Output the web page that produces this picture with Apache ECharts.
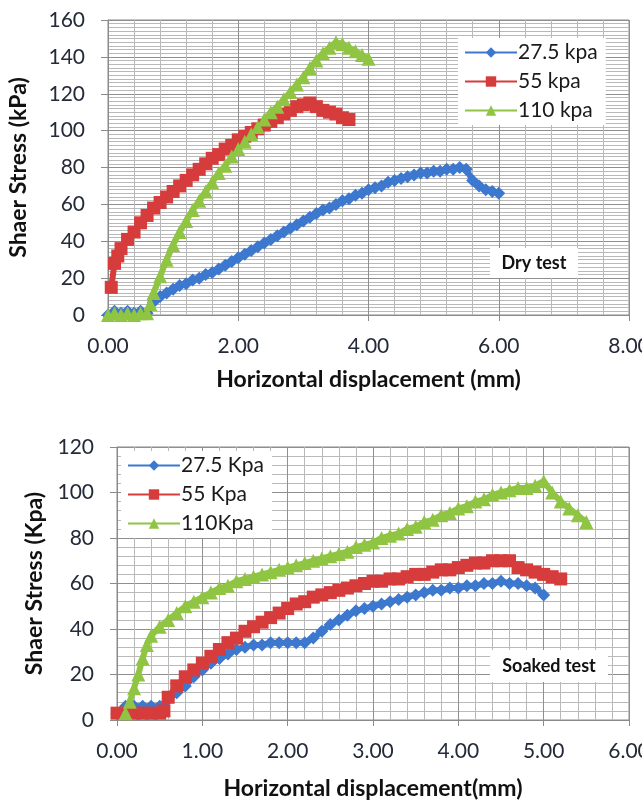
<!DOCTYPE html>
<html>
<head>
<meta charset="utf-8">
<title>Shear stress vs horizontal displacement</title>
<script src="https://cdn.jsdelivr.net/npm/echarts@6/dist/echarts.min.js"></script>
<style>
  html, body { margin: 0; padding: 0; background: #fff; }
  #chart { width: 642px; height: 800px; }
</style>
</head>
<body>
<div id="chart"></div>
<script>
// Dry test (top panel)
const blueDryX = [0, 0.1, 0.2, 0.3, 0.4, 0.5, 0.6, 0.7, 0.8, 0.9, 1.0, 1.1, 1.2, 1.3, 1.4, 1.5, 1.6, 1.7, 1.8, 1.9, 2.0, 2.1, 2.2, 2.3, 2.4, 2.5, 2.6, 2.7, 2.8, 2.9, 3.0, 3.1, 3.2, 3.3, 3.4, 3.5, 3.6, 3.7, 3.8, 3.9, 4.0, 4.1, 4.2, 4.3, 4.4, 4.5, 4.6, 4.7, 4.8, 4.9, 5.0, 5.1, 5.2, 5.3, 5.4, 5.5, 5.6, 5.7, 5.8, 5.9, 6.0];
const blueDryY = [0, 2, 1, 2, 1, 2, 1, 7, 10, 12, 14, 16, 17, 19, 20, 22, 23, 25, 27, 29, 31, 33, 35, 37, 39, 41, 43, 45, 47, 49, 51, 53, 55, 57, 58, 60, 62, 63, 65, 66, 68, 69, 70, 72, 73, 74, 75, 76, 77, 77, 78, 78, 79, 79, 80, 79, 73, 70, 68, 67, 66];
const redDryX = [0.05, 0.1, 0.15, 0.2, 0.3, 0.4, 0.5, 0.6, 0.7, 0.8, 0.9, 1.0, 1.1, 1.2, 1.3, 1.4, 1.5, 1.6, 1.7, 1.8, 1.9, 2.0, 2.1, 2.2, 2.3, 2.4, 2.5, 2.6, 2.7, 2.8, 2.9, 3.0, 3.1, 3.2, 3.3, 3.4, 3.5, 3.6, 3.7];
const redDryY = [15, 28, 32, 36, 41, 45, 50, 54, 58, 61, 64, 67, 70, 73, 76, 79, 82, 85, 87, 90, 92, 95, 97, 99, 101, 103, 105, 107, 109, 111, 113, 114, 115, 113, 111, 110, 109, 107, 106];
const greenDryX = [0, 0.1, 0.2, 0.3, 0.4, 0.5, 0.6, 0.65, 0.7, 0.8, 0.9, 1.0, 1.1, 1.2, 1.3, 1.4, 1.5, 1.6, 1.7, 1.8, 1.9, 2.0, 2.1, 2.2, 2.3, 2.4, 2.5, 2.6, 2.7, 2.8, 2.9, 3.0, 3.1, 3.2, 3.3, 3.4, 3.5, 3.6, 3.7, 3.8, 3.9, 4.0];
const greenDryY = [0, 1, 0, 1, 0, 1, 1, 6, 12, 21, 30, 38, 45, 51, 57, 62, 67, 72, 77, 81, 86, 90, 94, 98, 102, 106, 110, 113, 117, 121, 125, 129, 134, 138, 142, 145, 148, 147, 145, 143, 141, 139];

// Soaked test (bottom panel)
const blueSoakX = [0, 0.1, 0.2, 0.3, 0.4, 0.5, 0.6, 0.7, 0.8, 0.9, 1.0, 1.1, 1.2, 1.3, 1.4, 1.5, 1.6, 1.7, 1.8, 1.9, 2.0, 2.1, 2.2, 2.3, 2.4, 2.5, 2.6, 2.7, 2.8, 2.9, 3.0, 3.1, 3.2, 3.3, 3.4, 3.5, 3.6, 3.7, 3.8, 3.9, 4.0, 4.1, 4.2, 4.3, 4.4, 4.5, 4.6, 4.7, 4.8, 4.9, 5.0];
const blueSoakY = [3, 6, 6, 6, 6, 6, 9, 12, 15, 19, 22, 25, 27, 29, 31, 32, 33, 33, 34, 34, 34, 34, 34, 36, 39, 42, 44, 46, 48, 49, 50, 51, 52, 53, 54, 55, 56, 57, 57, 58, 58, 59, 59, 60, 60, 61, 60, 60, 59, 58, 55];
const redSoakX = [0, 0.1, 0.2, 0.3, 0.4, 0.5, 0.55, 0.6, 0.7, 0.8, 0.9, 1.0, 1.1, 1.2, 1.3, 1.4, 1.5, 1.6, 1.7, 1.8, 1.9, 2.0, 2.1, 2.2, 2.3, 2.4, 2.5, 2.6, 2.7, 2.8, 2.9, 3.0, 3.1, 3.2, 3.3, 3.4, 3.5, 3.6, 3.7, 3.8, 3.9, 4.0, 4.1, 4.2, 4.3, 4.4, 4.5, 4.6, 4.7, 4.8, 4.9, 5.0, 5.1, 5.2];
const redSoakY = [3, 3, 3, 3, 3, 3, 4, 10, 15, 19, 22, 25, 28, 31, 34, 36, 39, 41, 43, 45, 47, 49, 51, 52, 54, 55, 56, 57, 58, 59, 60, 61, 61, 62, 62, 63, 64, 64, 65, 66, 66, 67, 68, 69, 69, 70, 70, 70, 67, 66, 65, 64, 63, 62];
const greenSoakX = [0.1, 0.15, 0.2, 0.25, 0.3, 0.35, 0.4, 0.5, 0.6, 0.7, 0.8, 0.9, 1.0, 1.1, 1.2, 1.3, 1.4, 1.5, 1.6, 1.7, 1.8, 1.9, 2.0, 2.1, 2.2, 2.3, 2.4, 2.5, 2.6, 2.7, 2.8, 2.9, 3.0, 3.1, 3.2, 3.3, 3.4, 3.5, 3.6, 3.7, 3.8, 3.9, 4.0, 4.1, 4.2, 4.3, 4.4, 4.5, 4.6, 4.7, 4.8, 4.9, 5.0, 5.1, 5.2, 5.3, 5.4, 5.5];
const greenSoakY = [3, 8, 14, 20, 27, 33, 37, 41, 44, 47, 50, 52, 54, 56, 58, 59, 61, 62, 63, 64, 65, 66, 67, 68, 69, 70, 71, 72, 73, 74, 76, 77, 78, 80, 81, 82, 84, 85, 87, 88, 90, 91, 93, 94, 96, 97, 99, 100, 101, 102, 102, 103, 105, 100, 96, 93, 90, 87];

const dryNames = ["27.5 kpa", "55 kpa", "110 kpa"];
const soakNames = ["27.5 Kpa", "55 Kpa", "110Kpa"];

const BLUE = "#3d78cf";
const RED = "#d63c3c";
const GREEN = "#8fc543";
const FONT = "Lato, 'Open Sans', sans-serif";
const LABEL = "#232a38";

function pairs(xs, ys) {
  return xs.map((x, i) => [x, ys[i]]);
}

function lineSeries(name, xs, ys, color, symbol, size, idx) {
  return {
    name,
    type: "line",
    xAxisIndex: idx,
    yAxisIndex: idx,
    data: pairs(xs, ys),
    symbol,
    symbolSize: size,
    showAllSymbol: true,
    itemStyle: { color },
    lineStyle: { color, width: 6 },
    animation: false,
  };
}

function xAxisCfg(idx, max, interval, name, gap) {
  return {
    type: "value",
    gridIndex: idx,
    min: 0,
    max,
    interval,
    name,
    nameLocation: "middle",
    nameGap: gap,
    nameTextStyle: { fontFamily: FONT, fontWeight: "bold", fontSize: 23, color: "#111" },
    axisLine: { onZero: false, lineStyle: { color: "#8a8a8a" } },
    axisTick: { show: true, length: 6, lineStyle: { color: "#8a8a8a" } },
    axisLabel: {
      fontFamily: FONT, fontSize: 21, color: LABEL, margin: 21,
      formatter: (v) => v.toFixed(2),
    },
    splitLine: { show: true, lineStyle: { color: "#8f8f8f", width: 1 } },
    minorTick: { show: true, splitNumber: 5, length: 0 },
    minorSplitLine: { show: true, lineStyle: { color: "#b9b9b9", width: 1 } },
  };
}

function yAxisCfg(idx, max, interval, minorSplit, name, gap) {
  return {
    type: "value",
    gridIndex: idx,
    min: 0,
    max,
    interval,
    name,
    nameLocation: "middle",
    nameGap: gap,
    nameTextStyle: { fontFamily: FONT, fontWeight: "bold", fontSize: 23, color: "#111" },
    axisLine: { show: true, lineStyle: { color: "#8a8a8a" } },
    axisTick: { show: true, length: 7, lineStyle: { color: "#8a8a8a" } },
    axisLabel: { fontFamily: FONT, fontSize: 21, color: LABEL, margin: 23 },
    splitLine: { show: true, lineStyle: { color: "#8f8f8f", width: 1 } },
    minorTick: { show: true, splitNumber: minorSplit, length: 0 },
    minorSplitLine: { show: true, lineStyle: { color: "#b9b9b9", width: 1 } },
  };
}

function legendCfg(names, pos) {
  return Object.assign({
    data: names,
    orient: "vertical",
    backgroundColor: "#fff",
    padding: [4, 8, 4, 6],
    itemWidth: 52,
    itemHeight: 13,
    itemGap: 8,
    textStyle: { fontFamily: FONT, fontSize: 21, color: "#1a1a1a", padding: [0, 0, 0, -4] },
  }, pos);
}

function noteBox(text, left, top, w, h) {
  return {
    type: "group",
    left,
    top,
    z: 100,
    children: [
      { type: "rect", z: 100, shape: { width: w, height: h }, style: { fill: "#fff" } },
      {
        type: "text",
        z: 101,
        x: w / 2,
        y: h / 2,
        style: {
          text, fill: "#111", font: "bold 18px " + FONT,
          align: "center", verticalAlign: "middle",
        },
      },
    ],
  };
}

const chart = echarts.init(document.getElementById("chart"), null, { renderer: "canvas" });
chart.setOption({
  backgroundColor: "#fff",
  animation: false,
  grid: [
    { left: 108, right: 13, top: 20, height: 295, outerBoundsMode: "none", show: true, borderColor: "#8a8a8a", borderWidth: 1 },
    { left: 117, right: 13, top: 447, height: 273, outerBoundsMode: "none", show: true, borderColor: "#8a8a8a", borderWidth: 1 },
  ],
  xAxis: [
    xAxisCfg(0, 8, 2, "Horizontal displacement (mm)", 53),
    xAxisCfg(1, 6, 1, "Horizontal displacement(mm)", 57),
  ],
  yAxis: [
    yAxisCfg(0, 160, 20, 10, "Shaer Stress (kPa)", 78),
    yAxisCfg(1, 120, 20, 5, "Shaer Stress (Kpa)", 64),
  ],
  legend: [
    legendCfg(dryNames, { left: 458, top: 38 }),
    legendCfg(soakNames, { left: 121, top: 451 }),
  ],
  graphic: [
    noteBox("Dry test", 490, 248, 88, 30),
    noteBox("Soaked test", 490, 650, 118, 32),
  ],
  series: [
    lineSeries(dryNames[0], blueDryX, blueDryY, BLUE, "diamond", 13, 0),
    lineSeries(dryNames[1], redDryX, redDryY, RED, "rect", 13, 0),
    lineSeries(dryNames[2], greenDryX, greenDryY, GREEN, "triangle", 14, 0),
    lineSeries(soakNames[0], blueSoakX, blueSoakY, BLUE, "diamond", 13, 1),
    lineSeries(soakNames[1], redSoakX, redSoakY, RED, "rect", 13, 1),
    lineSeries(soakNames[2], greenSoakX, greenSoakY, GREEN, "triangle", 14, 1),
  ],
});
</script>
</body>
</html>
